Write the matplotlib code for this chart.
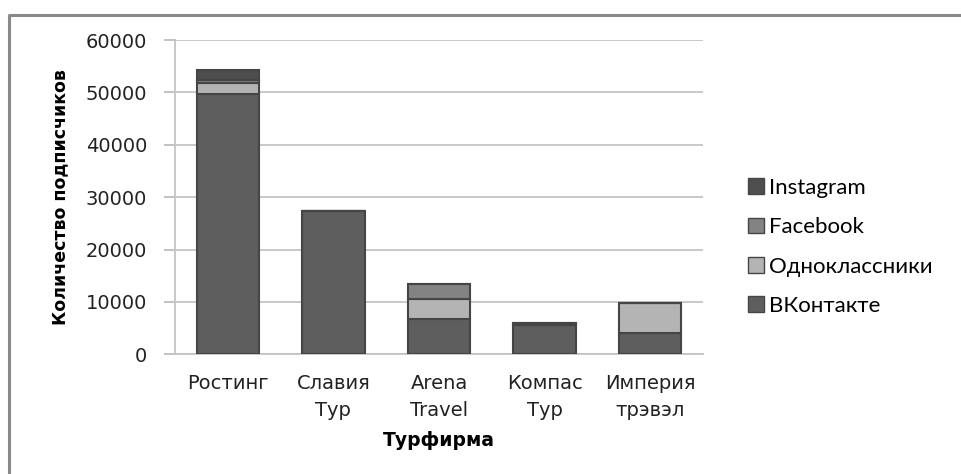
import matplotlib
matplotlib.use("Agg")
import matplotlib.pyplot as plt
from matplotlib.lines import Line2D
from matplotlib.patches import Patch
import numpy as np

categories = ["Ростинг", "Славия\nТур", "Arena\nTravel", "Компас\nТур", "Империя\nтрэвэл"]
vkontakte = [49700, 27300, 6650, 5500, 4000]
odnoklassniki = [2100, 0, 4000, 100, 5800]
facebook = [500, 0, 2700, 350, 0]
instagram = [2000, 0, 0, 0, 0]
series_names = ["ВКонтакте", "Одноклассники", "Facebook", "Instagram"]
yticks = [0, 10000, 20000, 30000, 40000, 50000, 60000]

colors = ["#5e5e5e", "#b4b4b4", "#838383", "#4e4e4e"]

fig = plt.figure(figsize=(9.61, 4.74), dpi=100)
ax = fig.add_axes([175/961, 1-354.3/474, (703-175)/961, (354.3-40)/474])

x = np.arange(len(categories))
bottom = np.zeros(len(categories))
handles = []
for vals, name, c in zip([vkontakte, odnoklassniki, facebook, instagram], series_names, colors):
    v = np.array(vals, dtype=float)
    ax.bar(x, v, bottom=bottom, width=0.59, color=c, edgecolor="#454545", linewidth=1.5, zorder=3)
    bottom += v
    handles.append(Patch(facecolor=c, edgecolor="#454545", linewidth=1.0, label=name))

ax.set_xlim(-0.5, len(categories) - 0.5)
ax.set_ylim(0, 60000)
ax.set_yticks(yticks)
ax.set_yticklabels([str(t) for t in yticks], fontsize=14, family="DejaVu Sans", color="#222222")
ax.set_xticks(x)
ax.set_xticklabels(categories, fontsize=14, family="DejaVu Sans", color="#222222", linespacing=1.55)
ax.tick_params(axis="x", length=0, pad=14)
ax.tick_params(axis="y", length=8, width=1.2, color="#b8b8b8", pad=12)
ax.yaxis.grid(True, color="#c4c4c4", linewidth=1.3, zorder=0)
for s in ["top", "right"]:
    ax.spines[s].set_visible(False)
ax.spines["left"].set_color("#c4c4c4")
ax.spines["left"].set_linewidth(1.3)
ax.spines["bottom"].set_color("#c4c4c4")
ax.spines["bottom"].set_linewidth(1.3)

ax.set_ylabel("Количество подписчиков", fontsize=12.5, fontweight="bold", family="DejaVu Sans", labelpad=12)
ax.set_xlabel("Турфирма", fontsize=13.5, fontweight="bold", family="DejaVu Sans", labelpad=8)

leg = fig.legend(handles=handles[::-1], loc="center left", bbox_to_anchor=(728/961, 1-247/474),
                 frameon=False, prop={"family": "Lato", "size": 16},
                 handlelength=0.7, handleheight=0.7, handletextpad=0.25, labelspacing=0.87)

fig.add_artist(Line2D([8.5/961, 8.5/961, 1.0], [0.0, 1-15/474, 1-15/474],
                      transform=fig.transFigure, color="#8a8a8a", linewidth=2.2))

fig.savefig("out.png", dpi=100)
